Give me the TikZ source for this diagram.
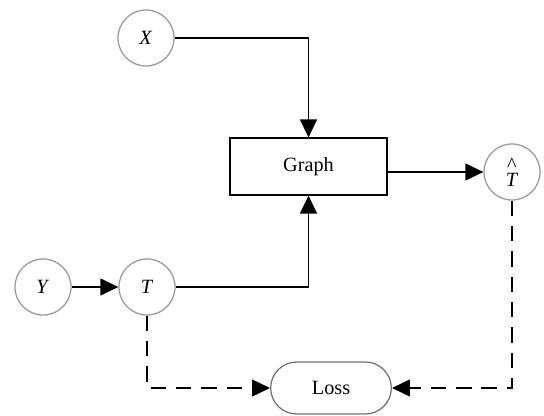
\documentclass[tikz,border=0pt]{standalone}
\usepackage{fontspec}
\setmainfont{Liberation Serif}
\usetikzlibrary{arrows.meta,positioning,shapes.misc}

\begin{document}
\begin{tikzpicture}[x=0.025cm, y=-0.025cm,
  every node/.style={font=\Large},
  var/.style={circle, draw=gray!80, line width=0.9pt, minimum size=1.4cm, inner sep=0pt},
  block/.style={draw, line width=0.8pt, minimum width=3.925cm, minimum height=1.425cm},
  lossbox/.style={rounded rectangle, draw=gray!90!black, line width=0.9pt, minimum width=3.25cm, minimum height=1.3cm},
  flow/.style={line width=1.4pt, -{Triangle[length=0.45cm, width=0.42cm]}},
  lossflow/.style={flow, dash pattern=on 11pt off 7pt}]

\useasboundingbox (0,0) rectangle (544,415);

% variables
\node[var] (X) at (146,38) {\textit{X}};
\node[var] (Y) at (43,287) {\textit{Y}};
\node[var] (T) at (147,287) {\textit{T}};
\node[var] (That) at (512,172) {\textit{T}\llap{\raisebox{0.75em}{\^{}}\hspace{0.08em}}};

% model and loss
\node[block] (Graph) at (308.5,166.5) {Graph};
\node[lossbox] (Loss) at (331,388) {Loss};

% forward pass
\draw[flow] (X) -| (Graph);
\draw[flow] (T) -| (Graph);
\draw[flow] (Y) -- (T);
\draw[flow] (Graph.east |- That) -- (That);

% loss terms
\draw[lossflow] (T) |- (Loss);
\draw[lossflow] (That) |- (Loss);

\end{tikzpicture}
\end{document}
